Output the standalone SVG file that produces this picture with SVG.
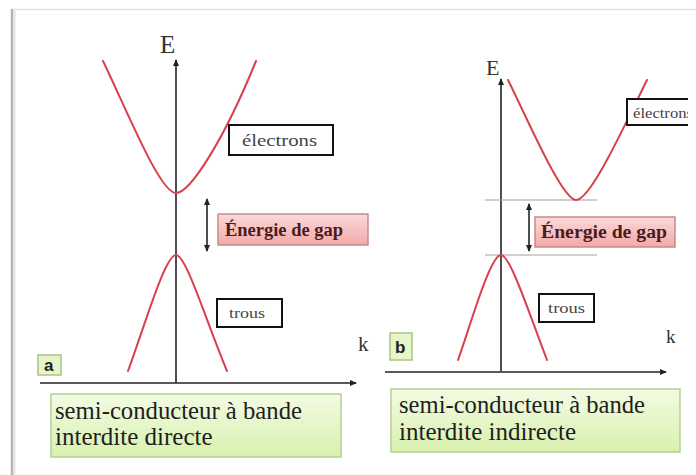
<svg xmlns="http://www.w3.org/2000/svg" width="696" height="475" viewBox="0 0 696 475">
<defs>
<style>
.ax{stroke:#222;stroke-width:1.6;fill:none}
.band{stroke:#d8404e;stroke-width:2;fill:none;stroke-linecap:round}
.guide{stroke:#a0a0a0;stroke-width:1.2;fill:none}
.lbl{fill:#fff;stroke:#111;stroke-width:2}
.lbltxt{font-family:"Liberation Serif","Times New Roman",serif;fill:#444}
.gap{fill:url(#pink);stroke:#c98a8a;stroke-width:1.5}
.gaptxt{font-family:"Liberation Serif","Times New Roman",serif;font-weight:bold;font-size:18px;fill:#4a1c1c}
.cap{fill:url(#green);stroke:#b7cf96;stroke-width:1.5}
.captxt{font-family:"Liberation Serif","Times New Roman",serif;font-size:25px;fill:#1e1e1e}
.tag{fill:#e6f6c8;stroke:#a9c486;stroke-width:1.5}
.tagtxt{font-family:"Liberation Sans",Arial,sans-serif;font-weight:bold;font-size:17px;fill:#222}
.axtxt{font-family:"Liberation Serif","Times New Roman",serif;fill:#333}
</style>
<linearGradient id="pink" x1="0" y1="0" x2="0" y2="1">
<stop offset="0" stop-color="#fbd9d9"/>
<stop offset="1" stop-color="#f3a9a9"/>
</linearGradient>
<linearGradient id="green" x1="0" y1="0" x2="0" y2="1">
<stop offset="0" stop-color="#f3fbe3"/>
<stop offset="1" stop-color="#d8f1ae"/>
</linearGradient>
<marker id="ah" markerWidth="8" markerHeight="8" refX="6" refY="4" orient="auto" markerUnits="userSpaceOnUse">
<path d="M0,1 L7,4 L0,7 Z" fill="#222"/>
</marker>
<marker id="ahs" markerWidth="8" markerHeight="8" refX="6" refY="4" orient="auto-start-reverse" markerUnits="userSpaceOnUse">
<path d="M0,1 L7,4 L0,7 Z" fill="#222"/>
</marker>
<clipPath id="clipR"><rect x="0" y="0" width="688" height="475"/></clipPath>
</defs>
<rect x="0" y="0" width="696" height="475" fill="#fff"/>
<g id="frame">
<line x1="12" y1="9.5" x2="696" y2="9.5" stroke="#e2e2e2" stroke-width="1.5"/>
<line x1="12" y1="9" x2="12" y2="475" stroke="#b4b4b4" stroke-width="2.5"/>
<line x1="14.5" y1="11" x2="14.5" y2="475" stroke="#e4e4e4" stroke-width="2"/>
</g>
<g id="connectors">
<line class="ax" x1="176" y1="383" x2="176" y2="60" marker-end="url(#ah)"/>
<line class="ax" x1="40" y1="383" x2="356" y2="383" marker-end="url(#ah)"/>
<line class="ax" x1="501" y1="371" x2="501" y2="79" marker-end="url(#ah)"/>
<line class="ax" x1="385" y1="372" x2="666" y2="372" marker-end="url(#ah)"/>
<line class="ax" x1="207" y1="199" x2="207" y2="251" marker-start="url(#ahs)" marker-end="url(#ahs)"/>
<line class="ax" x1="529" y1="204" x2="529" y2="251" marker-start="url(#ahs)" marker-end="url(#ahs)"/>
<line class="guide" x1="485" y1="200" x2="597" y2="200"/>
<line class="guide" x1="485" y1="255" x2="597" y2="255"/>
</g>
<g id="bands">
<path class="band" d="M103,61 C128,113 160,193 176,193 C190,193 224,140 256,61"/>
<path class="band" d="M128,371 C145,325 165,255 176,255 C186,255 205,318 227,371"/>
<path class="band" d="M508,80 C527,118 562,200 576,200 C590,200 620,135 647,80"/>
<path class="band" d="M458,360 C470,327 490,255 501,255 C510,255 528,310 547,360"/>
</g>
<g id="axis-labels">
<text class="axtxt" x="160" y="53" font-size="25">E</text>
<text class="axtxt" x="358" y="351" font-size="21">k</text>
<text class="axtxt" x="486" y="75" font-size="22">E</text>
<text class="axtxt" x="666" y="343" font-size="19">k</text>
</g>
<g id="electrons-a">
<rect class="lbl" x="229" y="125" width="104" height="30"/>
<text class="lbltxt" x="242" y="146" font-size="17" textLength="75" lengthAdjust="spacingAndGlyphs">électrons</text>
</g>
<g id="gap-a">
<rect class="gap" x="218" y="214" width="150" height="31"/>
<text class="gaptxt" x="225" y="236" textLength="118" lengthAdjust="spacingAndGlyphs">Énergie de gap</text>
</g>
<g id="trous-a">
<rect class="lbl" x="217" y="299" width="65" height="28"/>
<text class="lbltxt" x="229" y="318" font-size="15" textLength="36" lengthAdjust="spacingAndGlyphs">trous</text>
</g>
<g id="tag-a">
<rect class="tag" x="38" y="355" width="23" height="20"/>
<text class="tagtxt" x="44" y="371">a</text>
</g>
<g id="caption-a">
<rect class="cap" x="51" y="394" width="290" height="63"/>
<text class="captxt" x="55" y="419" textLength="247" lengthAdjust="spacingAndGlyphs">semi-conducteur à bande</text>
<text class="captxt" x="55" y="445">interdite directe</text>
</g>
<g id="electrons-b" clip-path="url(#clipR)">
<rect class="lbl" x="627" y="99" width="80" height="26"/>
<text class="lbltxt" x="633" y="118" font-size="14" textLength="60" lengthAdjust="spacingAndGlyphs">électrons</text>
</g>
<g id="gap-b">
<rect class="gap" x="535" y="217" width="140" height="30"/>
<text class="gaptxt" x="541" y="238" textLength="126" lengthAdjust="spacingAndGlyphs">Énergie de gap</text>
</g>
<g id="trous-b">
<rect class="lbl" x="539" y="294" width="55" height="28"/>
<text class="lbltxt" x="548" y="313" font-size="15" textLength="37" lengthAdjust="spacingAndGlyphs">trous</text>
</g>
<g id="tag-b">
<rect class="tag" x="390" y="333" width="22" height="27"/>
<text class="tagtxt" x="395" y="353">b</text>
</g>
<g id="caption-b">
<rect class="cap" x="391" y="389" width="289" height="63"/>
<text class="captxt" x="399" y="413" textLength="246" lengthAdjust="spacingAndGlyphs">semi-conducteur à bande</text>
<text class="captxt" x="399" y="440">interdite indirecte</text>
</g>
</svg>
